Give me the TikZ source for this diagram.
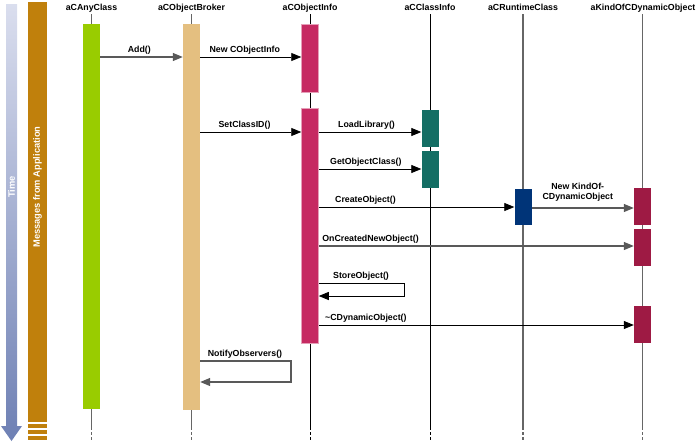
\documentclass[tikz,border=0pt]{standalone}
\usepackage{fontspec}
\setmainfont{Liberation Sans}
\usetikzlibrary{arrows.meta, positioning}

\definecolor{limebar}{HTML}{99CC00}
\definecolor{tanbar}{HTML}{E4BF80}
\definecolor{rosebar}{HTML}{C62A62}
\definecolor{tealbar}{HTML}{146E64}
\definecolor{navybar}{HTML}{003478}
\definecolor{winebar}{HTML}{9E1A44}
\definecolor{appbar}{HTML}{C0800C}
\definecolor{timetop}{HTML}{DADEEE}
\definecolor{timebot}{HTML}{6E80B4}

\begin{document}
\begin{tikzpicture}[
    x = 1pt, y = -1pt,
    hdr/.style  = {font = \bfseries\fontsize{8.8}{10}\selectfont, anchor = base, inner sep = 0pt},
    bar/.style  = {rectangle, minimum width = 17pt, inner sep = 0pt, anchor = north},
    life/.style = {line width = 1.2pt, black!60},
    thin/.style = {line width = 0.7pt, black},
    msg/.style  = {-{Triangle[length=10pt, width=8pt]}, line width = 0.8pt, black},
    gmsg/.style = {msg, black!65, line width = 1.2pt},
    lbl/.style  = {font = \bfseries\fontsize{8.8}{10}\selectfont, anchor = base west,
                   inner sep = 0pt, yshift = 5pt, text = black},
    side/.style = {font = \bfseries\fontsize{9.3}{10}\selectfont, text = white, rotate = 90}
  ]
    \useasboundingbox (0,0) rectangle (700,442);

    % ── Time arrow and application strip ─────────────────────────────────────
    \shade[top color = timetop, bottom color = timebot]
      (6,4) -- (17,4) -- (17,426) -- (22,426) -- (11.5,441) -- (1,426) -- (6,426) -- cycle;
    \node[side] (time) at (11.5,187) {Time};

    \fill[appbar] (28,2) rectangle (47,422);
    \fill[appbar] (28,423.5) rectangle (47,427.5);
    \fill[appbar] (28,429.5) rectangle (47,433.5);
    \fill[appbar] (28,436) rectangle (47,440);
    \node[side] (app) at (37.5,187) {Messages from Application};

    % ── Headers ──────────────────────────────────────────────────────────────
    \node[hdr] (hany)    at (91.5,10)  {aCAnyClass};
    \node[hdr] (hbroker) at (191.5,10) {aCObjectBroker};
    \node[hdr] (hinfo)   at (310,10)   {aCObjectInfo};
    \node[hdr] (hcinfo)  at (430,10)   {aCClassInfo};
    \node[hdr] (hrt)     at (523,10)   {aCRuntimeClass};
    \node[hdr] (hkind)   at (643,10)   {aKindOfCDynamicObject};

    % ── Lifelines ────────────────────────────────────────────────────────────
    \foreach \n/\x/\s in {any/91.5/life, broker/191.5/life, info/310/thin,
                          cinfo/430/thin, rt/523/life, kind/642.5/life} {
      \draw[\s] (\x,14) -- (\x,427);
      \draw[\s, dash pattern = on 3pt off 2pt] (\x,427) -- (\x,441);
    }

    % ── Activation bars ──────────────────────────────────────────────────────
    \node[bar, fill = limebar, minimum height = 385pt] (any)    at (91.5,24)  {};
    \node[bar, fill = tanbar,  minimum height = 386pt] (broker) at (191.5,24) {};
    \node[bar, fill = rosebar, draw = rosebar!45!white, line width = 0.5pt,
          minimum height = 68pt]  (info1) at (310,24)  {};
    \node[bar, fill = rosebar, draw = rosebar!45!white, line width = 0.5pt,
          minimum height = 235pt] (info2) at (310,108) {};
    \node[bar, fill = tealbar, minimum height = 37pt] (cinfo1) at (430,110) {};
    \node[bar, fill = tealbar, minimum height = 37pt] (cinfo2) at (430,151) {};
    \node[bar, fill = navybar, minimum height = 36pt] (rt)     at (523,189) {};
    \node[bar, fill = winebar, minimum height = 37pt] (kind1)  at (642.5,188) {};
    \node[bar, fill = winebar, minimum height = 37pt] (kind2)  at (642.5,229) {};
    \node[bar, fill = winebar, minimum height = 37pt] (kind3)  at (642.5,306) {};

    % ── Messages ─────────────────────────────────────────────────────────────
    \draw[gmsg] (any.east |- 0,57) --
      node[lbl, at start, xshift = 27pt]{Add()} (broker.west |- 0,57);
    \draw[msg] (broker.east |- 0,57) --
      node[lbl, at start, xshift = 9pt]{New CObjectInfo} (info1.west |- 0,57);
    \draw[msg] (broker.east |- 0,132) --
      node[lbl, at start, xshift = 18pt]{SetClassID()} (info2.west |- 0,132);
    \draw[msg] (info2.east |- 0,132) --
      node[lbl, at start, xshift = 19pt]{LoadLibrary()} (cinfo1.west |- 0,132);
    \draw[msg] (info2.east |- 0,169) --
      node[lbl, at start, xshift = 11pt]{GetObjectClass()} (cinfo2.west |- 0,169);
    \draw[msg] (info2.east |- 0,207) --
      node[lbl, at start, xshift = 16pt]{CreateObject()} (rt.west |- 0,207);
    \draw[gmsg] (rt.east |- 0,208) --
      node[lbl, anchor = south, align = center, midway, yshift = 1pt, xshift = -5pt]
      {New KindOf-\\CDynamicObject} (kind1.west |- 0,208);
    \draw[gmsg] (info2.east |- 0,246) --
      node[lbl, at start, xshift = 3pt]{OnCreatedNewObject()} (kind2.west |- 0,246);
    \draw[msg] (info2.east |- 0,283) -- node[lbl, at start, xshift = 14pt]{StoreObject()}
      (404,283) |- (info2.east |- 0,296);
    \draw[msg] (info2.east |- 0,325) --
      node[lbl, at start, xshift = 6pt]{\textasciitilde CDynamicObject()} (kind3.west |- 0,325);
    \draw[gmsg] (broker.east |- 0,361) -- node[lbl, at start, xshift = 7pt]{NotifyObservers()}
      (291,361) |- (broker.east |- 0,382);
  \end{tikzpicture}
\end{document}
